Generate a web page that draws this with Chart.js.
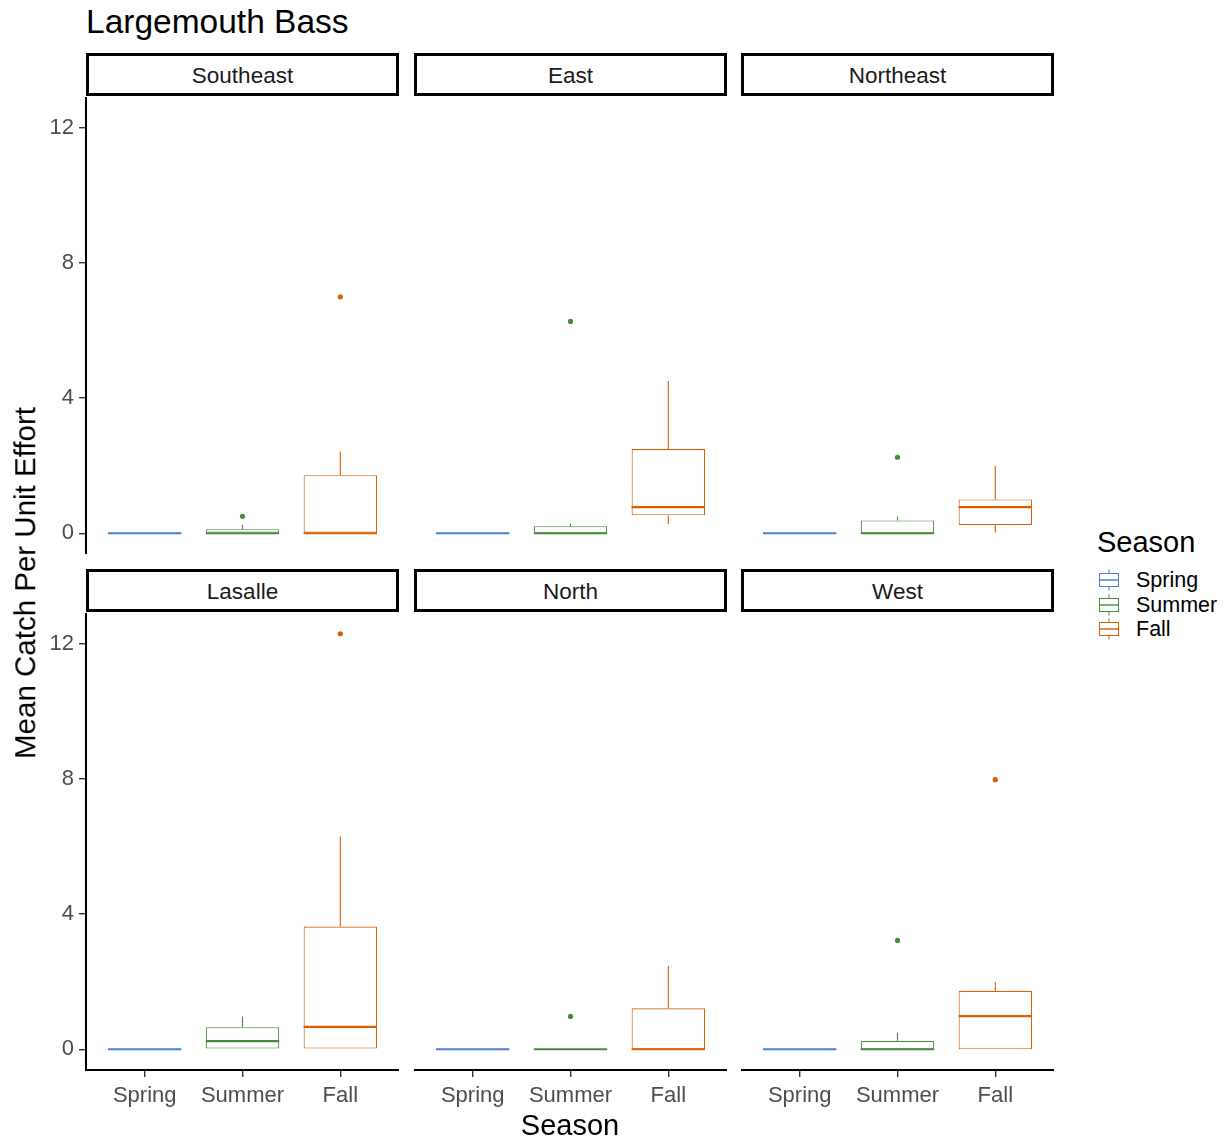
<!DOCTYPE html>
<html>
<head>
<meta charset="utf-8">
<title>Largemouth Bass</title>
<script src="https://cdn.jsdelivr.net/npm/chart.js@4.4.1/dist/chart.umd.min.js"></script>
<style>
  html, body { margin: 0; padding: 0; background: #fff; }
  #page { position: relative; width: 1227px; height: 1141px; overflow: hidden;
          font-family: "Liberation Sans", Arial, Helvetica, sans-serif; }
  .txt { position: absolute; white-space: nowrap; line-height: 1; }
  .strip { position: absolute; box-sizing: border-box; border: 3px solid #000; background: #fff;
           color: #1a1a1a; font-size: 22.5px; display: flex; align-items: center; justify-content: center;
           padding-top: 2px; }
  canvas { position: absolute; }
</style>
</head>
<body>
<div id="page"></div>
<script>
// ---- data -------------------------------------------------------------
const seasons = ['Spring', 'Summer', 'Fall'];
const seasonColors = ['#4a7fcc', '#4a8a3c', '#d95f02'];
const regions = ['Southeast', 'East', 'Northeast', 'Lasalle', 'North', 'West'];

// box summaries per season (Spring, Summer, Fall):
// [lower whisker, Q1, median, Q3, upper whisker]
const southeastStats = [[0, 0, 0, 0, 0], [0, 0, 0, 0.12, 0.25], [0, 0, 0, 1.72, 2.43]];
const eastStats      = [[0, 0, 0, 0, 0], [0, 0, 0, 0.21, 0.28], [0.27, 0.53, 0.77, 2.49, 4.51]];
const northeastStats = [[0, 0, 0, 0, 0], [0, 0, 0, 0.38, 0.50], [0.02, 0.24, 0.77, 1.00, 1.99]];
const lasalleStats   = [[0, 0, 0, 0, 0], [0, 0, 0.24, 0.65, 0.97], [0, 0, 0.66, 3.63, 6.30]];
const northStats     = [[0, 0, 0, 0, 0], [0, 0, 0, 0, 0], [0, 0, 0, 1.21, 2.47]];
const westStats      = [[0, 0, 0, 0, 0], [0, 0, 0, 0.25, 0.49], [0, 0, 0.98, 1.73, 1.99]];

// outlying values per season
const southeastOutliers = [[], [0.50], [7.00]];
const eastOutliers      = [[], [6.27], []];
const northeastOutliers = [[], [2.25], []];
const lasalleOutliers   = [[], [], [12.30]];
const northOutliers     = [[], [0.97], []];
const westOutliers      = [[], [3.22], [7.98]];

const yTicks = [0, 4, 8, 12];
const yLimits = [-0.615, 12.915];

const panelStats = [southeastStats, eastStats, northeastStats, lasalleStats, northStats, westStats];
const panelOutliers = [southeastOutliers, eastOutliers, northeastOutliers, lasalleOutliers, northOutliers, westOutliers];

// ---- layout -----------------------------------------------------------
const FONT = '"Liberation Sans", Arial, Helvetica, sans-serif';
const page = document.getElementById('page');
const colLeft = [86, 414, 741];
const rowTop = [97, 613];
const stripTop = [53, 569];
const PW = 313, PH = 457, STRIP_H = 43;
const Y_AXIS_W = 70, X_AXIS_H = 50;

function addText(str, x, y, size, opts = {}) {
  const d = document.createElement('div');
  d.className = 'txt';
  d.textContent = str;
  d.style.fontSize = size + 'px';
  d.style.color = opts.color || '#000';
  d.style.left = x + 'px';
  d.style.top = y + 'px';
  const tx = opts.anchor === 'center' ? '-50%' : '0';
  d.style.transform = `translate(${tx}, -50%)`;
  page.appendChild(d);
  return d;
}

// whiskers and medians on top of the box bars
const boxWhiskers = {
  id: 'boxWhiskers',
  afterDatasetsDraw(chart, args, opts) {
    const { ctx, chartArea, scales: { x, y } } = chart;
    const stats = opts.stats;
    const boxW = 0.75 * (x.getPixelForValue(2) - x.getPixelForValue(1));
    ctx.save();
    ctx.beginPath();
    ctx.rect(chartArea.left, chartArea.top, chartArea.right - chartArea.left, chartArea.bottom - chartArea.top);
    ctx.clip();
    stats.forEach((s, i) => {
      const cx = x.getPixelForValue(i + 1);
      ctx.strokeStyle = seasonColors[i];
      ctx.lineWidth = 1.1;
      ctx.beginPath();
      ctx.moveTo(cx, y.getPixelForValue(s[4]));
      ctx.lineTo(cx, y.getPixelForValue(s[3]));
      ctx.moveTo(cx, y.getPixelForValue(s[0]));
      ctx.lineTo(cx, y.getPixelForValue(s[1]));
      ctx.stroke();
      ctx.lineWidth = 2.2;
      ctx.beginPath();
      ctx.moveTo(cx - boxW / 2, y.getPixelForValue(s[2]));
      ctx.lineTo(cx + boxW / 2, y.getPixelForValue(s[2]));
      ctx.stroke();
    });
    ctx.restore();
  }
};

function axisStyle() {
  return {
    grid: { display: true, drawOnChartArea: false, drawTicks: true, tickLength: 7, color: '#333', lineWidth: 1.4, offset: false },
    border: { display: true, color: '#000', width: 2 },
  };
}

regions.forEach((name, p) => {
  const r = Math.floor(p / 3), c = p % 3;
  const stats = panelStats[p];
  const outliers = panelOutliers[p];

  // facet strip
  const strip = document.createElement('div');
  strip.className = 'strip';
  strip.textContent = name;
  strip.style.left = colLeft[c] + 'px';
  strip.style.top = stripTop[r] + 'px';
  strip.style.width = PW + 'px';
  strip.style.height = STRIP_H + 'px';
  page.appendChild(strip);

  const showY = c === 0, showX = r === 1;
  const mL = showY ? Y_AXIS_W : 0, mB = showX ? X_AXIS_H : 0;
  const cv = document.createElement('canvas');
  cv.width = PW + mL;
  cv.height = PH + mB;
  cv.style.left = (colLeft[c] - mL) + 'px';
  cv.style.top = rowTop[r] + 'px';
  page.appendChild(cv);

  const outPts = [], outCols = [];
  outliers.forEach((vals, i) => vals.forEach(v => { outPts.push({ x: i + 1, y: v }); outCols.push(seasonColors[i]); }));

  new Chart(cv, {
    type: 'bar',
    data: {
      datasets: [
        {
          type: 'scatter',
          data: outPts,
          pointBackgroundColor: outCols,
          pointBorderWidth: 0,
          pointRadius: 2.6,
        },
        {
          type: 'bar',
          data: stats.map((s, i) => ({ x: i + 1, y: [s[1], s[3]] })),
          backgroundColor: '#fff',
          borderColor: seasonColors,
          borderWidth: 1.1,
          borderSkipped: false,
          barPercentage: 0.75,
          categoryPercentage: 1,
        }
      ]
    },
    options: {
      responsive: false,
      animation: false,
      events: [],
      devicePixelRatio: 1,
      layout: { padding: 0, autoPadding: false },
      plugins: { legend: { display: false }, tooltip: { enabled: false }, boxWhiskers: { stats } },
      scales: {
        x: Object.assign(axisStyle(), {
          type: 'linear', min: 0.4, max: 3.6, offset: false, display: showX,
          afterBuildTicks: s => { s.ticks = [1, 2, 3].map(v => ({ value: v })); },
          afterFit: s => { s.height = mB; s.paddingLeft = 0; s.paddingRight = 0; },
          ticks: { callback: v => seasons[v - 1], color: '#4d4d4d', padding: 6,
                   font: { family: FONT, size: 22 }, maxRotation: 0, autoSkip: false },
        }),
        y: Object.assign(axisStyle(), {
          type: 'linear', min: yLimits[0], max: yLimits[1], display: showY,
          afterBuildTicks: s => { s.ticks = yTicks.map(v => ({ value: v })); },
          afterFit: s => { s.width = mL; s.paddingTop = 0; s.paddingBottom = 0; },
          ticks: { color: '#4d4d4d', padding: 5, font: { family: FONT, size: 22 } },
        }),
      }
    },
    plugins: [boxWhiskers]
  });
});

// ---- titles -----------------------------------------------------------
addText('Largemouth Bass', 86, 22, 33.5);
addText('Season', 570, 1125, 29, { anchor: 'center' });
const yTitle = addText('Mean Catch Per Unit Effort', 25, 583, 29.5);
yTitle.style.transformOrigin = 'center center';
yTitle.style.transform = 'translate(-50%, -50%) rotate(-90deg)';

// ---- legend -----------------------------------------------------------
addText('Season', 1097, 542, 29);
const keyY = [581, 605.5, 630];
seasons.forEach((s, i) => {
  const col = seasonColors[i];
  const svg = document.createElementNS('http://www.w3.org/2000/svg', 'svg');
  svg.setAttribute('width', 24);
  svg.setAttribute('height', 24);
  svg.style.position = 'absolute';
  svg.style.left = '1097px';
  svg.style.top = (keyY[i] - 13) + 'px';
  svg.innerHTML =
    `<line x1="12" y1="1.5" x2="12" y2="22.5" stroke="${col}" stroke-width="1"/>` +
    `<rect x="2.5" y="5.5" width="19" height="13" fill="#fff" stroke="${col}" stroke-width="1"/>` +
    `<line x1="2.5" y1="12" x2="21.5" y2="12" stroke="${col}" stroke-width="1.4"/>`;
  page.appendChild(svg);
  addText(s, 1136, keyY[i], 21.5);
});
</script>
</body>
</html>
